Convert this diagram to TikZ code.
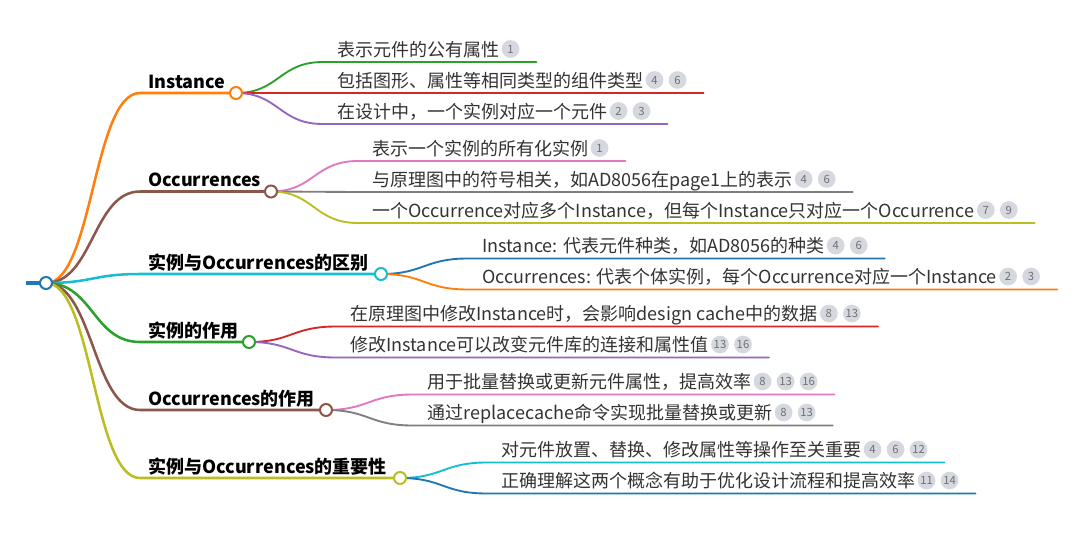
\documentclass[tikz,border=0pt]{standalone}
\usepackage{fontspec}
\setmainfont{Noto Sans CJK SC}
\usetikzlibrary{calc,backgrounds}
\definecolor{cBlue}{HTML}{1F77B4}
\definecolor{cOrange}{HTML}{FF7F0E}
\definecolor{cGreen}{HTML}{2CA02C}
\definecolor{cRed}{HTML}{D62728}
\definecolor{cPurple}{HTML}{9467BD}
\definecolor{cBrown}{HTML}{8C564B}
\definecolor{cPink}{HTML}{E377C2}
\definecolor{cGray}{HTML}{7F7F7F}
\definecolor{cOlive}{HTML}{BCBD22}
\definecolor{cCyan}{HTML}{17BECF}
\definecolor{badgefill}{HTML}{D5D8DF}
\definecolor{badgetext}{HTML}{707070}
\definecolor{leafcolor}{HTML}{333333}
\newcommand\leaf[7]{% name, parent hub, text x, line y, colour, text, badges
  \node[leaftext, anchor=base west] (#1) at (#3,{#4-6}) {#6};
  \coordinate (#1-b0) at ($(#1.base east)+(-12,-7)$);
  \foreach \b [count=\i, remember=\i as \j (initially 0)] in {#7} {
    \node[badge] (#1-b\i) at ($(#1-b\j)+(23,0)$) {\b};
    \coordinate (#1-end) at ($(#1-b\i)+(26,0)$);
  }
  \coordinate (#1-start) at ({#3-14},#4);
  \coordinate (#1-endl) at (#1-end |- #1-start);
  \begin{pgfonlayer}{background}
    \draw[leafline,#5] (#2.center) .. controls +(43,0) and +(-44,0) .. (#1-start) -- (#1-endl);
  \end{pgfonlayer}
}
\newcommand\branch[6]{% name, line y, hub x, colour, label, hub name
  \node[maintext, anchor=base west] (#1) at (148,{#2-5}) {#5};
  \node[hub, draw=#4] (#6) at (#3,#2) {};
  \coordinate (#1-start) at (140,#2);
  \begin{pgfonlayer}{background}
    \draw[mainline,#4] (root.center) .. controls +(47,0) and +(-47,0) .. (#1-start) -- (#6.center);
  \end{pgfonlayer}
}
\begin{document}
\begin{tikzpicture}[x=0.75pt,y=-0.75pt,
  mainline/.style={line width=1.9pt, line cap=round},
  leafline/.style={line width=1.4pt, line cap=round},
  hub/.style={circle, fill=white, line width=1.5pt, minimum size=9pt, inner sep=0},
  maintext/.style={font=\fontsize{13.5pt}{16pt}\selectfont\bfseries, inner sep=0, text=black},
  leaftext/.style={font=\fontsize{13.5pt}{16pt}\selectfont, inner sep=0, text=leafcolor},
  badge/.style={circle, fill=badgefill, minimum size=13.3pt, inner sep=0, font=\fontsize{8.5pt}{9pt}\selectfont, text=badgetext},
]
\begin{pgfonlayer}{background}
  \fill[white] (0,0) rectangle (1080,532);
\end{pgfonlayer}
\useasboundingbox (0,0) rectangle (1080,532);

\coordinate (stub) at (26,283);
\node[hub, draw=cBlue] (root) at (46,283) {};
\begin{pgfonlayer}{background}
  \draw[cBlue, line width=3pt] (stub) -- (root.center);
\end{pgfonlayer}

\branch{b1}{93}{236}{cOrange}{Instance}{h1}
\branch{b2}{191.5}{271}{cBrown}{Occurrences}{h2}
\branch{b3}{274}{381}{cCyan}{实例与Occurrences的区别}{h3}
\branch{b4}{342}{249}{cGreen}{实例的作用}{h4}
\branch{b5}{410}{326}{cBrown}{Occurrences的作用}{h5}
\branch{b6}{478}{400}{cOlive}{实例与Occurrences的重要性}{h6}

\leaf{i1}{h1}{337}{62}{cGreen}{表示元件的公有属性}{1}
\leaf{i2}{h1}{337}{93}{cRed}{包括图形、属性等相同类型的组件类型}{4,6}
\leaf{i3}{h1}{337}{124}{cPurple}{在设计中，一个实例对应一个元件}{2,3}

\leaf{o1}{h2}{372}{161}{cPink}{表示一个实例的所有化实例}{1}
\leaf{o2}{h2}{372}{192}{cGray}{与原理图中的符号相关，如AD8056在page1上的表示}{4,6}
\leaf{o3}{h2}{372}{223}{cOlive}{一个Occurrence对应多个Instance，但每个Instance只对应一个Occurrence}{7,9}

\leaf{d1}{h3}{482}{258.5}{cBlue}{Instance: 代表元件种类，如AD8056的种类}{4,6}
\leaf{d2}{h3}{482}{289.5}{cOrange}{Occurrences: 代表个体实例，每个Occurrence对应一个Instance}{2,3}

\leaf{f1}{h4}{350}{326.5}{cRed}{在原理图中修改Instance时，会影响design cache中的数据}{8,13}
\leaf{f2}{h4}{350}{357.5}{cPurple}{修改Instance可以改变元件库的连接和属性值}{13,16}

\leaf{g1}{h5}{427}{394.5}{cPink}{用于批量替换或更新元件属性，提高效率}{8,13,16}
\leaf{g2}{h5}{427}{425.5}{cGray}{通过replacecache命令实现批量替换或更新}{8,13}

\leaf{m1}{h6}{501}{462.5}{cCyan}{对元件放置、替换、修改属性等操作至关重要}{4,6,12}
\leaf{m2}{h6}{501}{493.5}{cBlue}{正确理解这两个概念有助于优化设计流程和提高效率}{11,14}
\end{tikzpicture}
\end{document}
